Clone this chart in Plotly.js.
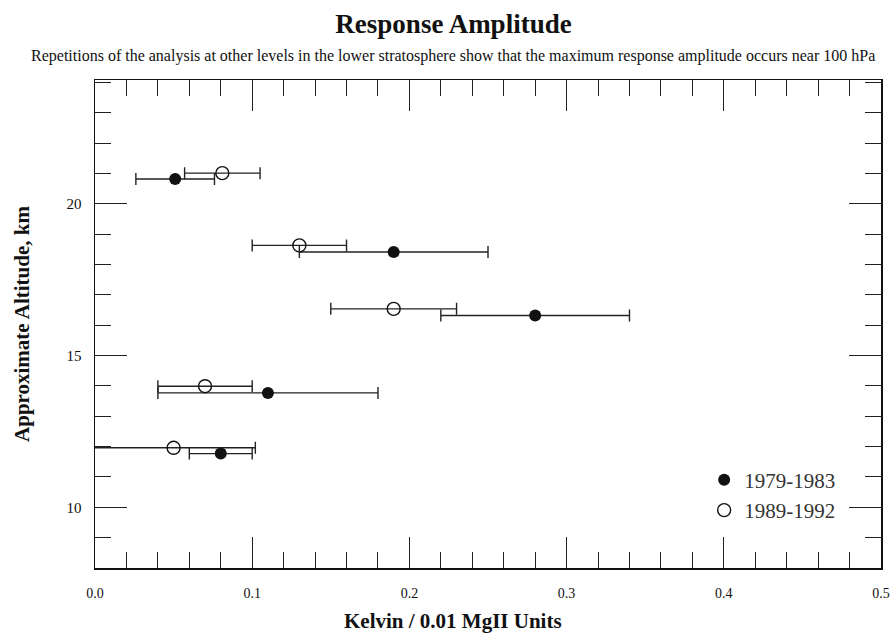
<!DOCTYPE html>
<html>
<head>
<meta charset="utf-8">
<script src="https://cdn.plot.ly/plotly-3.0.1.min.js"></script>
<style>html,body{margin:0;padding:0;background:#fff;}#chart{width:891px;height:633px;}</style>
</head>
<body>
<div id="chart"></div>
<script>
// Series 1979-1983 (filled circles)
var filledX = [0.051, 0.19, 0.28, 0.11, 0.08];
var filledY = [20.82, 18.41, 16.32, 13.77, 11.77];
var filledErr = [0.025, 0.06, 0.06, 0.07, 0.02];
// Series 1989-1992 (open circles)
var openX = [0.081, 0.13, 0.19, 0.07, 0.05];
var openY = [21.01, 18.63, 16.54, 13.99, 11.96];
var openErr = [0.024, 0.03, 0.04, 0.03, 0.052];
var seriesNames = ['1979-1983', '1989-1992'];
var xTickVals = [0.0, 0.1, 0.2, 0.3, 0.4, 0.5];
var yTickVals = [10, 15, 20];

var serif = 'Liberation Serif, Times New Roman, serif';

var traces = [
  {
    type: 'scatter', mode: 'markers', name: seriesNames[0],
    x: filledX, y: filledY,
    error_x: {type: 'data', array: filledErr, visible: true, color: '#222', thickness: 1.4, width: 6},
    marker: {symbol: 'circle', size: 12, color: '#111'},
    cliponaxis: false
  },
  {
    type: 'scatter', mode: 'markers', name: seriesNames[1],
    x: openX, y: openY,
    error_x: {type: 'data', array: openErr, visible: true, color: '#222', thickness: 1.4, width: 6},
    marker: {symbol: 'circle-open', size: 13, color: '#111', line: {width: 1.4, color: '#111'}},
    cliponaxis: false
  }
];

var layout = {
  width: 891, height: 633,
  margin: {l: 95, r: 10, t: 80, b: 65},
  paper_bgcolor: '#fff', plot_bgcolor: '#fff',
  font: {family: serif, color: '#111', size: 14},
  title: {
    text: '<b>Response Amplitude</b>',
    font: {family: serif, size: 27, color: '#111'},
    x: 0.509, xanchor: 'center', y: 0.963, yanchor: 'middle'
  },
  showlegend: true,
  legend: {
    x: 0.775, y: 0.222, xanchor: 'left', yanchor: 'top',
    font: {family: serif, size: 21, color: '#333'},
    itemwidth: 30,
    bgcolor: 'rgba(0,0,0,0)', borderwidth: 0
  },
  xaxis: {
    range: [0, 0.5], tickvals: xTickVals, tickformat: '.1f',
    ticks: 'inside', ticklen: 31, tickwidth: 1, tickcolor: '#222',
    minor: {dtick: 0.02, ticks: 'inside', ticklen: 16, tickwidth: 1, tickcolor: '#222'},
    showline: true, linecolor: '#111', linewidth: 1.5, mirror: 'allticks',
    showgrid: false, zeroline: false,
    tickfont: {family: serif, size: 14, color: '#111'},
    ticklabelstandoff: 12
  },
  yaxis: {
    range: [8, 24.08], tickvals: yTickVals,
    ticks: 'inside', ticklen: 32, tickwidth: 1, tickcolor: '#222',
    minor: {dtick: 1, ticks: 'inside', ticklen: 16, tickwidth: 1, tickcolor: '#222'},
    showline: true, linecolor: '#111', linewidth: 1.5, mirror: 'allticks',
    showgrid: false, zeroline: false,
    tickfont: {family: serif, size: 15, color: '#111'},
    ticklabelstandoff: 9,
    title: {text: '<b>Approximate Altitude, km</b>', font: {family: serif, size: 21, color: '#111'}, standoff: 31}
  },
  annotations: [
    {
      text: 'Repetitions of the analysis at other levels in the lower stratosphere show that the maximum response amplitude occurs near 100 hPa',
      xref: 'paper', yref: 'paper', x: 0.456, y: 1, xanchor: 'center', yanchor: 'middle',
      yshift: 24, showarrow: false,
      font: {family: serif, size: 16, color: '#111'}
    },
    {
      text: '<b>Kelvin / 0.01 MgII Units</b>',
      xref: 'paper', yref: 'paper', x: 0.456, y: 0, xanchor: 'center', yanchor: 'middle',
      yshift: -53, showarrow: false,
      font: {family: serif, size: 21, color: '#111'}
    }
  ]
};

Plotly.newPlot('chart', traces, layout, {displayModeBar: false, staticPlot: true});
</script>
</body>
</html>
